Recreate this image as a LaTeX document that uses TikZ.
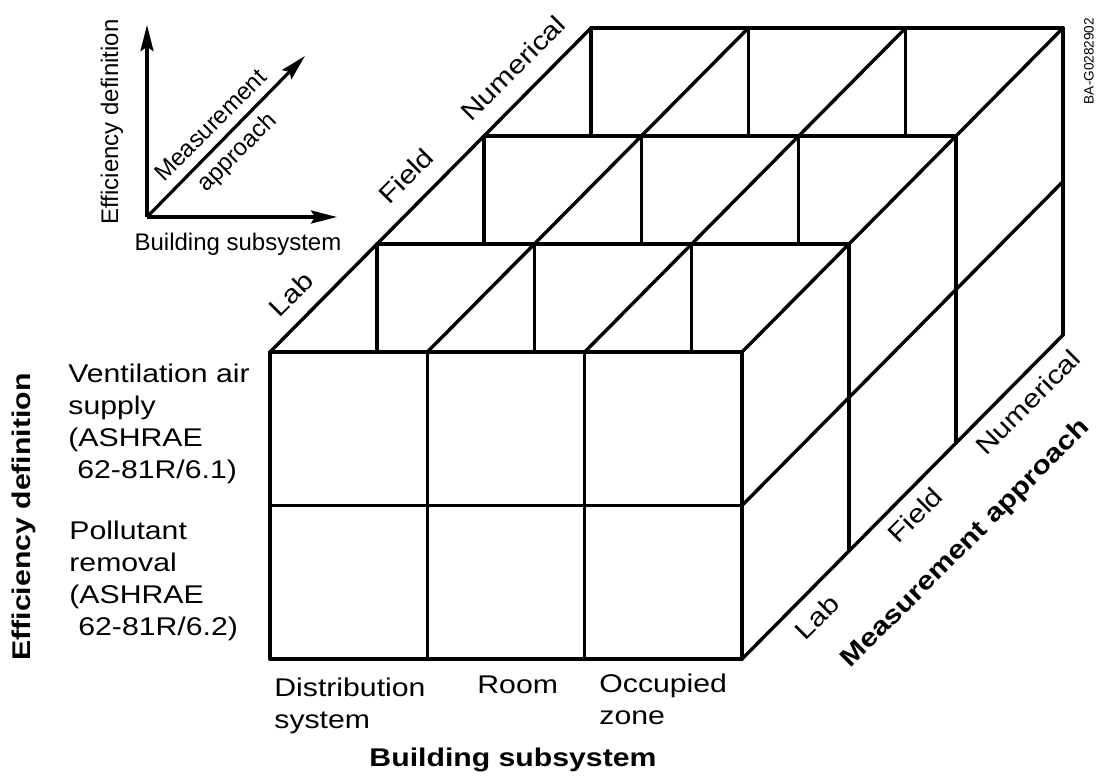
\documentclass[tikz,border=0pt]{standalone}
\usepackage{fontspec}
\setmainfont{Liberation Sans}
\newfontfamily\widesans[FakeStretch=1.18]{Liberation Sans}
\usetikzlibrary{arrows.meta}

\begin{document}
\begin{tikzpicture}[
        x=0.5pt, y=-0.5pt,
        cellline/.style={line width=1.7pt, line cap=round, line join=round},
        axarrow/.style={line width=1.6pt, -{Stealth[length=13pt, width=6.5pt, inset=2pt]}},
        keytext/.style={font=\fontsize{12}{18.5}\selectfont, inner sep=0pt},
        celltext/.style={font=\widesans\fontsize{12.8}{16}\selectfont, align=left, inner sep=0pt},
        axtitle/.style={font=\widesans\bfseries\fontsize{12.8}{16}\selectfont, inner sep=0pt}
    ]
    \useasboundingbox (0,0) rectangle (1098,778);

    % small key of the three axes
    \coordinate (org) at (147,217);
    \coordinate (efftip) at (147,25);
    \coordinate (bldtip) at (337,217);
    \coordinate (mestip) at (305,56);
    \draw[axarrow] (org) -- (efftip);
    \draw[axarrow] (org) -- (bldtip);
    \draw[axarrow] (org) -- (mestip);
    \node[keytext, rotate=90] (effkey) at (112,122) {Efficiency definition};
    \node[keytext, rotate=45, align=center] (meskey) at (225,140) {Measurement\\approach};
    \node[keytext] (bldkey) at (238,244) {Building subsystem};

    % the block of cells
    \coordinate (o) at (270,659);
    \begin{scope}[shift={(o)}, x={(78.67pt,0pt)}, y={(0pt,76.75pt)}, z={(53.5pt,54pt)}, cellline]
        % front face
        \foreach \i in {0,...,3} \draw (\i,0,0) -- (\i,2,0);
        \foreach \j in {0,1,2} \draw (0,\j,0) -- (3,\j,0);
        % top face
        \foreach \i in {0,...,3} \draw (\i,2,0) -- (\i,2,3);
        \foreach \k in {1,2,3} \draw (0,2,\k) -- (3,2,\k);
        \foreach \i in {0,1,2} \foreach \k in {1,2,3} \draw (\i,2,\k) -- ++(0pt,-54pt);
        % right face
        \foreach \j in {0,1} \draw (3,\j,0) -- (3,\j,3);
        \foreach \k in {1,2,3} \draw (3,0,\k) -- (3,2,\k);
    \end{scope}

    % rows
    \node[celltext, anchor=north west] (vent) at (68,364) {Ventilation air\\supply\\(ASHRAE\\\hspace*{.35em}62-81R/6.1)};
    \node[celltext, anchor=north west] (poll) at (69,521) {Pollutant\\removal\\(ASHRAE\\\hspace*{.35em}62-81R/6.2)};
    \node[axtitle, rotate=90] (efftitle) at (24,517) {Efficiency definition};

    % columns
    \node[celltext, anchor=north west] (dist) at (274,678) {Distribution\\system};
    \node[celltext, anchor=north west] (room) at (477,675) {Room};
    \node[celltext, anchor=north west] (occ) at (599,674) {Occupied\\zone};
    \node[axtitle] (bldtitle) at (513,760) {Building subsystem};

    % depth
    \node[celltext, rotate=45] (labtop) at (291,294) {Lab};
    \node[celltext, rotate=45] (fldtop) at (406,176) {Field};
    \node[celltext, rotate=45] (numtop) at (513,68) {Numerical};
    \node[celltext, rotate=45] (labside) at (817,617) {Lab};
    \node[celltext, rotate=45] (fldside) at (915,515) {Field};
    \node[celltext, rotate=45] (numside) at (1028,402) {Numerical};
    \node[axtitle, rotate=45] (mestitle) at (966,544) {Measurement approach};

    \node[font=\fontsize{6.8}{8}\selectfont, rotate=90, inner sep=0pt] (code) at (1089,61) {BA-G0282902};
\end{tikzpicture}
\end{document}
